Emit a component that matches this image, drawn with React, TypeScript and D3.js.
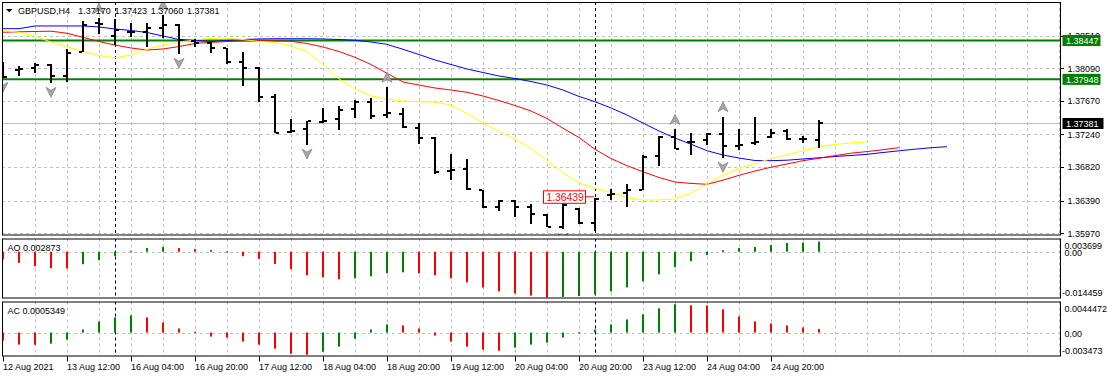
import React from 'react';
import * as d3 from 'd3';

// ---------- data ----------
const headerSymbol = 'GBPUSD,H4';
const headerValues = ['1.37170', '1.37423', '1.37060', '1.37381'];

const priceTicks = [1.3851, 1.3809, 1.3767, 1.3724, 1.3682, 1.3639, 1.3597];
const priceTickLabels = ['1.38510', '1.38090', '1.37670', '1.37240', '1.36820', '1.36390', '1.35970'];

const timeLabels = ['12 Aug 2021', '13 Aug 12:00', '16 Aug 04:00', '16 Aug 20:00', '17 Aug 12:00', '18 Aug 04:00', '18 Aug 20:00', '19 Aug 12:00', '20 Aug 04:00', '20 Aug 20:00', '23 Aug 12:00', '24 Aug 04:00', '24 Aug 20:00'];
const timeLabelBars = [0, 4, 8, 12, 16, 20, 24, 28, 32, 36, 40, 44, 48];
const separatorBars = [7, 37];

const opens = [1.38120, 1.38068, 1.38094, 1.38132, 1.37991, 1.38303, 1.38668, 1.38505, 1.38560, 1.38553, 1.38604, 1.38646, 1.38445, 1.38419, 1.38347, 1.38175, 1.38098, 1.37725, 1.37268, 1.37314, 1.37406, 1.37435, 1.37567, 1.37661, 1.37486, 1.37503, 1.37327, 1.37198, 1.36770, 1.36792, 1.36522, 1.36304, 1.36389, 1.36312, 1.36209, 1.36055, 1.36282, 1.36098, 1.36462, 1.36484, 1.36526, 1.36963, 1.37211, 1.37139, 1.37169, 1.37242, 1.37092, 1.37126, 1.37211, 1.37288, 1.37178, 1.37170];
const highs = [1.38175, 1.38120, 1.38162, 1.38145, 1.38334, 1.38702, 1.38732, 1.38720, 1.38668, 1.38676, 1.38775, 1.38659, 1.38463, 1.38432, 1.38355, 1.38296, 1.38111, 1.37756, 1.37435, 1.37417, 1.37576, 1.37609, 1.37683, 1.37705, 1.37846, 1.37576, 1.37383, 1.37203, 1.36989, 1.36925, 1.36526, 1.36398, 1.36398, 1.36343, 1.36218, 1.36355, 1.36291, 1.36424, 1.36535, 1.36600, 1.36976, 1.37220, 1.37306, 1.37263, 1.37255, 1.37468, 1.37306, 1.37460, 1.37306, 1.37306, 1.37224, 1.37423];
const lows = [1.37962, 1.37991, 1.38026, 1.37897, 1.37914, 1.38296, 1.38531, 1.38389, 1.38496, 1.38368, 1.38475, 1.38270, 1.38368, 1.38283, 1.38145, 1.37866, 1.37661, 1.37255, 1.37255, 1.37104, 1.37383, 1.37297, 1.37448, 1.37435, 1.37455, 1.37319, 1.37117, 1.36732, 1.36655, 1.36526, 1.36299, 1.36260, 1.36183, 1.36089, 1.36047, 1.36021, 1.36089, 1.36003, 1.36398, 1.36312, 1.36520, 1.36835, 1.37049, 1.36976, 1.37104, 1.36934, 1.37040, 1.37104, 1.37198, 1.37169, 1.37126, 1.37060];
const closes = [1.37978, 1.38081, 1.38130, 1.37991, 1.38290, 1.38650, 1.38660, 1.38582, 1.38555, 1.38604, 1.38646, 1.38454, 1.38411, 1.38347, 1.38175, 1.38098, 1.37725, 1.37263, 1.37288, 1.37409, 1.37417, 1.37554, 1.37653, 1.37477, 1.37512, 1.37332, 1.37191, 1.36761, 1.36783, 1.36535, 1.36304, 1.36389, 1.36312, 1.36218, 1.36055, 1.36337, 1.36098, 1.36407, 1.36471, 1.36526, 1.36954, 1.37211, 1.37053, 1.37147, 1.37242, 1.37092, 1.37110, 1.37140, 1.37263, 1.37182, 1.37178, 1.37381];

// Alligator (already shifted forward: jaw 8 bars, teeth 5, lips 3)
const jaw = [1.38599, 1.38599, 1.38634, 1.38634, 1.38634, 1.38634, 1.38621, 1.38595, 1.38576, 1.38550, 1.38505, 1.38460, 1.38447, 1.38434, 1.38447, 1.38460, 1.38467, 1.38470, 1.38470, 1.38470, 1.38467, 1.38460, 1.38450, 1.38428, 1.38398, 1.38334, 1.38267, 1.38197, 1.38139, 1.38081, 1.38036, 1.37991, 1.37959, 1.37920, 1.37875, 1.37811, 1.37728, 1.37661, 1.37580, 1.37490, 1.37387, 1.37284, 1.37194, 1.37114, 1.37031, 1.36976, 1.36937, 1.36905, 1.36903, 1.36909, 1.36925, 1.36940, 1.36957, 1.36970, 1.36985, 1.37008, 1.37030, 1.37051, 1.37069, 1.37083];
const teeth = [1.38553, 1.38559, 1.38563, 1.38567, 1.38540, 1.38488, 1.38434, 1.38389, 1.38351, 1.38325, 1.38338, 1.38370, 1.38409, 1.38424, 1.38434, 1.38441, 1.38443, 1.38441, 1.38437, 1.38409, 1.38364, 1.38306, 1.38231, 1.38139, 1.38026, 1.37914, 1.37875, 1.37837, 1.37811, 1.37782, 1.37734, 1.37676, 1.37612, 1.37541, 1.37445, 1.37320, 1.37201, 1.37049, 1.36931, 1.36839, 1.36761, 1.36687, 1.36629, 1.36611, 1.36600, 1.36652, 1.36715, 1.36770, 1.36819, 1.36860, 1.36903, 1.36934, 1.36968, 1.36999, 1.37020, 1.37044, 1.37070];
const lips = [1.38578, 1.38553, 1.38501, 1.38428, 1.38366, 1.38305, 1.38255, 1.38226, 1.38261, 1.38334, 1.38389, 1.38424, 1.38456, 1.38476, 1.38476, 1.38460, 1.38434, 1.38422, 1.38377, 1.38306, 1.38139, 1.37953, 1.37824, 1.37737, 1.37696, 1.37670, 1.37660, 1.37657, 1.37618, 1.37512, 1.37387, 1.37281, 1.37182, 1.37060, 1.36899, 1.36749, 1.36616, 1.36548, 1.36494, 1.36430, 1.36398, 1.36398, 1.36413, 1.36488, 1.36601, 1.36716, 1.36800, 1.36871, 1.36927, 1.36979, 1.37030, 1.37081, 1.37112, 1.37130, 1.37147];

const fractalUpBars = [6, 10, 24, 42, 45];
const fractalDownBars = [0, 3, 11, 19, 35, 45];

const levelPrices = [1.38447, 1.37948];
const levelLabels = ['1.38447', '1.37948'];
const bidPrice = 1.37381;
const bidLabel = '1.37381';
const notePrice = 1.36439;
const noteLabel = '1.36439';
const noteBar = 37;

const aoTitle = 'AO 0.002873';
const aoValues = [-0.00245, -0.00354, -0.00459, -0.00522, -0.00530, -0.00395, -0.00268, -0.00140, 0.00029, 0.00115, 0.00147, 0.00115, 0.00083, 0.00051, 0.00010, -0.00140, -0.00226, -0.00385, -0.00554, -0.00746, -0.00809, -0.00873, -0.00841, -0.00777, -0.00682, -0.00650, -0.00682, -0.00746, -0.00841, -0.00969, -0.01128, -0.01255, -0.01319, -0.01383, -0.01446, -0.01425, -0.01400, -0.01350, -0.01255, -0.01128, -0.00937, -0.00714, -0.00491, -0.00299, -0.00108, 0.00051, 0.00115, 0.00147, 0.00210, 0.00274, 0.00290, 0.00320];
const aoTicks = [0.003699, 0, -0.014459];
const aoTickLabels = ['0.003699', '0.00', '-0.014459'];

const acTitle = 'AC 0.0005349';
const acValues = [-0.00120, -0.00179, -0.00182, -0.00164, -0.00105, 0.00045, 0.00164, 0.00224, 0.00254, 0.00224, 0.00149, 0.00060, 0.00010, -0.00060, -0.00075, -0.00134, -0.00179, -0.00239, -0.00314, -0.00329, -0.00284, -0.00209, -0.00090, 0.00045, 0.00120, 0.00105, 0.00060, -0.00045, -0.00134, -0.00209, -0.00254, -0.00269, -0.00224, -0.00179, -0.00149, -0.00075, 0.00003, 0.00045, 0.00120, 0.00194, 0.00269, 0.00359, 0.00418, 0.00403, 0.00400, 0.00344, 0.00239, 0.00164, 0.00134, 0.00105, 0.00075, 0.00053];
const acTicks = [0.0044472, 0, -0.003473];
const acTickLabels = ['0.0044472', '0.00', '-0.003473'];

// ---------- layout ----------
const W = 1107, H = 378;
const L = 2, R = 1061;
const mainTop = 2, mainBot = 235.5;
const aoTop = 238.5, aoBot = 298.5;
const acTop = 301.5, acBot = 356.5;
const FONT = '"Liberation Sans", Arial, sans-serif';
const GRID = '#c0c0c0';
const GREEN = '#008000';
const RED = '#ff0000';

const x = d3.scaleLinear().domain([0, 1]).range([3, 19]);
const yMain = d3.scaleLinear().domain([1.3597, 1.3809]).range([233.3, 68.3]);
const yAO = d3.scaleLinear().domain([-0.014459, 0.003699]).range([297.5, 240]);
const yAC = d3.scaleLinear().domain([-0.003473, 0.0044472]).range([356, 302.5]);

const gridBars: number[] = [];
for (let i = 2; x(i) < R - 1; i += 2) gridBars.push(i);

function upArrow(cx: number, cy: number) {
  return `M${cx},${cy - 5} L${cx + 5},${cy + 5} L${cx},${cy + 2} L${cx - 5},${cy + 5} Z`;
}
function downArrow(cx: number, cy: number) {
  return `M${cx},${cy + 5} L${cx + 5},${cy - 5} L${cx},${cy - 2} L${cx - 5},${cy - 5} Z`;
}

function Histogram({ values, scale }: { values: number[]; scale: d3.ScaleLinear<number, number> }) {
  const z = scale(0);
  return (
    <g>
      {values.map((v, i) => {
        const up = i > 0 && v > values[i - 1];
        const yv = scale(v);
        const y0 = Math.min(z, yv);
        const h = Math.max(1, Math.abs(yv - z));
        return <rect key={i} x={x(i) - 1} y={y0} width={2} height={h} fill={up ? GREEN : RED} />;
      })}
    </g>
  );
}

export default function App() {
  const lineGen = (arr: number[]) =>
    d3.line<number>().x((_, i) => x(i)).y((d) => yMain(d))(arr) || '';

  const vGrid = (top: number, bot: number) =>
    gridBars.map((i) => (
      <line key={'g' + i} x1={x(i) + 0.5} x2={x(i) + 0.5} y1={top} y2={bot} stroke={GRID} strokeDasharray="3,3" />
    ));
  const seps = (top: number, bot: number) =>
    separatorBars.map((i) => (
      <line key={'s' + i} x1={x(i) + 0.5} x2={x(i) + 0.5} y1={top} y2={bot} stroke="#000" strokeDasharray="3,3" />
    ));

  const yNote = yMain(notePrice);

  return (
    <svg width={W} height={H} style={{ position: 'absolute', left: 0, top: 0 }} fontFamily={FONT}>
      <rect x={0} y={0} width={W} height={H} fill="#fff" />
      <defs>
        <clipPath id="clipMain"><rect x={L + 0.5} y={mainTop + 0.5} width={R - L - 1} height={mainBot - mainTop - 1} /></clipPath>
        <clipPath id="clipAO"><rect x={L + 0.5} y={aoTop + 0.5} width={R - L - 1} height={aoBot - aoTop - 1} /></clipPath>
        <clipPath id="clipAC"><rect x={L + 0.5} y={acTop + 0.5} width={R - L - 1} height={acBot - acTop - 1} /></clipPath>
      </defs>

      {/* ---- main panel ---- */}
      <g clipPath="url(#clipMain)">
        {priceTicks.map((p, k) => (
          <line key={k} x1={L} x2={R} y1={Math.round(yMain(p)) + 0.5} y2={Math.round(yMain(p)) + 0.5} stroke={GRID} strokeDasharray="3,3" />
        ))}
        {vGrid(mainTop, mainBot)}
        {seps(mainTop, mainBot)}
        <line x1={L} x2={R} y1={Math.round(yMain(bidPrice)) + 0.5} y2={Math.round(yMain(bidPrice)) + 0.5} stroke={GRID} />
        {levelPrices.map((p, k) => (
          <line key={k} x1={L} x2={R} y1={yMain(p)} y2={yMain(p)} stroke={GREEN} strokeWidth={2} />
        ))}
        <path d={lineGen(jaw)} fill="none" stroke="#0000ff" strokeWidth={1} />
        <path d={lineGen(teeth)} fill="none" stroke={RED} strokeWidth={1} />
        <path d={lineGen(lips)} fill="none" stroke="#ffff00" strokeWidth={1} />
        {opens.map((o, i) => {
          const c = x(i);
          const yh = Math.round(yMain(highs[i]));
          const yl = Math.round(yMain(lows[i]));
          const yo = Math.round(yMain(o));
          const yc = Math.round(yMain(closes[i]));
          return (
            <g key={i} fill="#000">
              <rect x={c - 1} y={yh} width={2} height={Math.max(1, yl - yh)} />
              <rect x={c - 4} y={yo - 1} width={3} height={2} />
              <rect x={c + 1} y={yc - 1} width={3} height={2} />
            </g>
          );
        })}
        {fractalUpBars.map((i) => (
          <path key={'fu' + i} d={upArrow(x(i), yMain(highs[i]) - 10)} fill="#a6a6a6" stroke="#7d7d8c" strokeWidth={0.7} />
        ))}
        {fractalDownBars.map((i) => (
          <path key={'fd' + i} d={downArrow(x(i), yMain(lows[i]) + 9)} fill="#a6a6a6" stroke="#7d7d8c" strokeWidth={0.7} />
        ))}
        {/* price note */}
        <line x1={585.5} x2={x(noteBar) - 1} y1={yNote} y2={yNote} stroke={RED} />
        <rect x={543.5} y={yNote - 6} width={42} height={12.5} fill="#fff" stroke={RED} />
        <text x={546.5} y={yNote + 3.8} fontSize={10.3} fill={RED}>{noteLabel}</text>
      </g>
      {/* header */}
      <path d="M6,9 L12.5,9 L9.25,12.5 Z" fill="#000" />
      <text x={18} y={14} fontSize={9} fill="#000">{headerSymbol}</text>
      {headerValues.map((v, k) => (
        <text key={k} x={78.3 + 36.2 * k} y={14} fontSize={9} fill="#000">{v}</text>
      ))}
      <rect x={L + 0.5} y={mainTop + 0.5} width={R - L - 1} height={mainBot - mainTop - 1} fill="none" stroke="#000" />

      {/* main price axis */}
      {priceTicks.map((p, k) => (
        <g key={k}>
          <line x1={R} x2={R + 3} y1={Math.round(yMain(p)) + 0.5} y2={Math.round(yMain(p)) + 0.5} stroke="#000" />
          <text x={1067.5} y={yMain(p) + 3.3} fontSize={9} fill="#000">{priceTickLabels[k]}</text>
        </g>
      ))}
      {levelPrices.map((p, k) => (
        <g key={k}>
          <rect x={1062.5} y={yMain(p) - 5.5} width={38} height={11} fill={GREEN} />
          <text x={1066} y={yMain(p) + 3.3} fontSize={9} fill="#fff">{levelLabels[k]}</text>
        </g>
      ))}
      <rect x={1062.5} y={yMain(bidPrice) - 5.5} width={41} height={11} fill="#000" />
      <text x={1066} y={yMain(bidPrice) + 3.3} fontSize={9} fill="#fff">{bidLabel}</text>

      {/* ---- AO panel ---- */}
      <g clipPath="url(#clipAO)">
        <line x1={L} x2={R} y1={Math.round(yAO(0)) + 0.5} y2={Math.round(yAO(0)) + 0.5} stroke={GRID} strokeDasharray="3,3" />
        {vGrid(aoTop, aoBot)}
        {seps(aoTop, aoBot)}
        <Histogram values={aoValues} scale={yAO} />
      </g>
      <rect x={L + 0.5} y={aoTop + 0.5} width={R - L - 1} height={aoBot - aoTop - 1} fill="none" stroke="#000" />
      <text x={7.5} y={251.3} fontSize={9} fill="#000">{aoTitle}</text>
      {aoTickLabels.map((t, k) => {
        const cy = k === 0 ? aoTop + 6.8 : k === 2 ? aoBot - 5.8 : yAO(aoTicks[k]) + 0.8;
        return <text key={k} x={t.startsWith('-') ? 1062 : 1064.5} y={cy + 3.3} fontSize={9} fill="#000">{t}</text>;
      })}

      {/* ---- AC panel ---- */}
      <g clipPath="url(#clipAC)">
        <line x1={L} x2={R} y1={Math.round(yAC(0)) + 0.5} y2={Math.round(yAC(0)) + 0.5} stroke={GRID} strokeDasharray="3,3" />
        {vGrid(acTop, acBot)}
        {seps(acTop, acBot)}
        <Histogram values={acValues} scale={yAC} />
      </g>
      <rect x={L + 0.5} y={acTop + 0.5} width={R - L - 1} height={acBot - acTop - 1} fill="none" stroke="#000" />
      <text x={7.5} y={314.3} fontSize={9} fill="#000">{acTitle}</text>
      {acTickLabels.map((t, k) => {
        const cy = k === 0 ? acTop + 6.8 : k === 2 ? acBot - 5.8 : yAC(acTicks[k]) + 0.8;
        return <text key={k} x={t.startsWith('-') ? 1062 : 1064.5} y={cy + 3.3} fontSize={9} fill="#000">{t}</text>;
      })}

      {/* ---- time axis ---- */}
      {timeLabelBars.map((b, k) => (
        <g key={k}>
          <line x1={x(b) + 0.5} x2={x(b) + 0.5} y1={acBot} y2={acBot + 5} stroke="#000" />
          <text x={x(b)} y={369.5} fontSize={9} fill="#000">{timeLabels[k]}</text>
        </g>
      ))}
    </svg>
  );
}
